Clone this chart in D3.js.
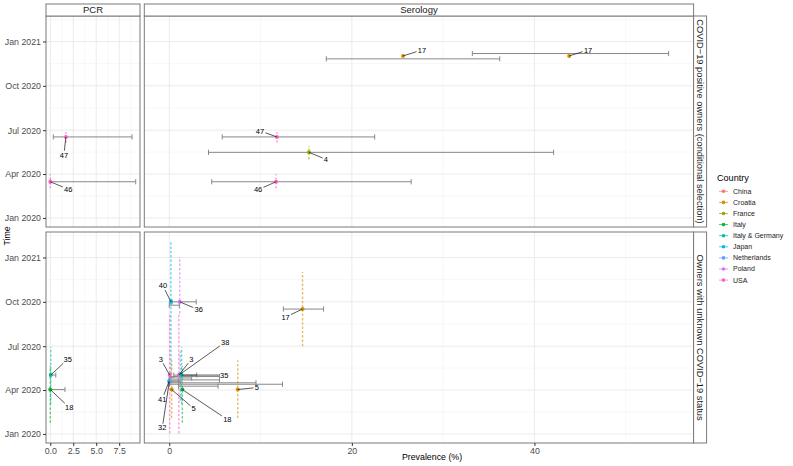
<!DOCTYPE html>
<html>
<head>
<meta charset="utf-8">
<script src="https://cdn.jsdelivr.net/npm/d3@7"></script>
<style>
  body { margin: 0; background: #fff; }
  svg { display: block; font-family: "Liberation Sans", Arial, Helvetica, sans-serif; }
</style>
</head>
<body>
<svg id="chart" width="793" height="466"></svg>
<script>
const countries = ["China", "Croatia", "France", "Italy", "Italy & Germany", "Japan", "Netherlands", "Poland", "USA"];
const countryColors = ["#F8766D", "#D39200", "#93AA00", "#00BA38", "#00C19F", "#00B9E3", "#619CFF", "#DB72FB", "#FF61C3"];

const methods = ["PCR", "Serology"];
const groups = ["COVID−19 positive owners (conditional selection)", "Owners with unknown COVID−19 status"];

// n = number of animals, shown as label; start/end = sampling period (dashed)
const pcrPositive = [
  { country: "USA", n: 47, prev: 1.7, lo: 0.33, hi: 8.9, date: "2020-06-17", start: "2020-06-05", end: "2020-06-27" },
  { country: "USA", n: 46, prev: 0, lo: 0, hi: 9.3, date: "2020-03-16", start: "2020-03-02", end: "2020-04-01" }
];

const seroPositive = [
  { country: "Croatia", n: 17, prev: 25.6, lo: 17.2, hi: 36.2, date: "2020-12-02", ciDate: "2020-11-26" },
  { country: "Croatia", n: 17, prev: 43.8, lo: 33.2, hi: 54.7, date: "2020-12-02", ciDate: "2020-12-07" },
  { country: "USA", n: 47, prev: 11.8, lo: 5.8, hi: 22.5, date: "2020-06-17", start: "2020-06-05", end: "2020-06-27" },
  { country: "France", n: 4, prev: 15.3, lo: 4.3, hi: 42.1, date: "2020-05-16", start: "2020-05-01", end: "2020-05-29" },
  { country: "USA", n: 46, prev: 11.7, lo: 4.65, hi: 26.5, date: "2020-03-16", start: "2020-03-02", end: "2020-04-01" }
];

const pcrUnknown = [
  { country: "Italy & Germany", n: 35, prev: 0.05, lo: 0, hi: 0.6, date: "2020-05-02", start: "2020-03-03", end: "2020-06-29" },
  { country: "Italy", n: 18, prev: 0, lo: 0, hi: 1.6, date: "2020-04-02", start: "2020-01-24", end: "2020-05-21" }
];

const seroUnknown = [
  { country: "Japan", n: 40, prev: 0.18, lo: 0, hi: 1.1, date: "2020-10-01", ciDate: "2020-09-24", start: "2020-04-26", end: "2021-02-03" },
  { country: "Poland", n: 36, prev: 1.14, lo: 0.3, hi: 2.95, date: "2020-10-01", start: "2020-09-07", end: "2021-01-02" },
  { country: "Croatia", n: 17, prev: 14.6, lo: 12.5, hi: 16.9, date: "2020-09-16", start: "2020-07-01", end: "2020-12-02" },
  { country: "Croatia", n: 5, prev: 7.5, lo: 0, hi: 12.4, date: "2020-04-02", ciDate: "2020-04-13", start: "2020-02-03", end: "2020-06-02" },
  { country: "Croatia", n: 5, prev: 0.26, lo: 0, hi: 9.5, date: "2020-04-02", ciDate: "2020-04-16", start: "2020-02-03", end: "2020-06-02" },
  { country: "Italy", n: 18, prev: 1.43, lo: 1.0, hi: 5.35, date: "2020-04-02", ciDate: "2020-04-09", start: "2020-01-24", end: "2020-05-21" },
  { country: "USA", n: 3, prev: 0.05, lo: 0, hi: 2.45, date: "2020-05-02", ciDate: "2020-04-26", start: "2020-01-02", end: "2020-09-07" },
  { country: "USA", n: 3, prev: 1.05, lo: 0.07, hi: 5.5, date: "2020-05-02", ciDate: "2020-04-29", start: "2020-01-02", end: "2020-09-07" },
  { country: "Netherlands", n: 38, prev: 1.2, lo: 0, hi: 5.5, date: "2020-05-04", ciDate: "2020-04-22", start: "2020-03-10", end: "2020-06-20" },
  { country: "Italy & Germany", n: 35, prev: 1.35, lo: 0.5, hi: 3.0, date: "2020-05-02", start: "2020-03-03", end: "2020-06-29" },
  { country: "Japan", n: 41, prev: 0, lo: 0, hi: 1.0, date: "2020-04-20" },
  { country: "Netherlands", n: 32, prev: 0, lo: 0, hi: 1.2, date: "2020-04-18" }
];

// label placement (px from the point), like ggrepel did it
const nudgePcrPositive = [[-2, 18], [18, 7.5]];
const nudgeSeroPositive = [[19, -6], [19, -6], [-17, -6], [17, 7], [-18, 8]];
const nudgePcrUnknown = [[17, -16], [19, 18]];
const nudgeSeroUnknown = [[-8, -16], [19, 8], [-17, 8], [19, -2], [22, 19], [45, 30],
  [-9, -16], [12.6, -16], [45, -32], [42.7, 0], [-7, 18], [-7, 46]];

const facets = [
  { method: "PCR", row: 0, rows: pcrPositive, nudge: nudgePcrPositive },
  { method: "Serology", row: 0, rows: seroPositive, nudge: nudgeSeroPositive },
  { method: "PCR", row: 1, rows: pcrUnknown, nudge: nudgePcrUnknown },
  { method: "Serology", row: 1, rows: seroUnknown, nudge: nudgeSeroUnknown }
];

const parse = d3.utcParse("%Y-%m-%d");
const color = d3.scaleOrdinal(countries, countryColors);

const colX = { PCR: [46, 140], Serology: [144.3, 693.6] };
const rowY = [[16, 227], [232, 443]];

const svg = d3.select("#chart");

// scales: ggplot-like 5% expansion of data range
function expand([a, b]) {
  const e = (b - a) * 0.05;
  return [a - e, b + e];
}
const x = {};
for (const m of methods) {
  const rows = facets.filter(f => f.method === m).flatMap(f => f.rows);
  x[m] = d3.scaleLinear()
    .domain(expand([d3.min(rows, d => d.lo), d3.max(rows, d => d.hi)]))
    .range(colX[m]);
}
const allDates = facets.flatMap(f => f.rows).flatMap(d => [d.date, d.ciDate, d.start, d.end]).filter(Boolean).map(parse);
const dateExt = d3.extent(allDates);
const dayMs = 864e5;
const dSpan = (dateExt[1] - dateExt[0]) * 0.05;
const yDomain = [new Date(+dateExt[0] - dSpan), new Date(+dateExt[1] + dSpan)];
const y = rowY.map(r => d3.scaleUtc().domain(yDomain).range([r[1], r[0]]));

const yMajor = d3.utcMonth.every(3).range(yDomain[0], yDomain[1]);
const yMinor = [];
{
  const ext = [d3.utcMonth.offset(yMajor[0], -3), ...yMajor, d3.utcMonth.offset(yMajor[yMajor.length - 1], 3)];
  for (let i = 0; i < ext.length - 1; i++) yMinor.push(new Date((+ext[i] + +ext[i + 1]) / 2));
}
const fmt = d3.utcFormat("%b %Y");

const xMajor = { PCR: [0, 2.5, 5, 7.5], Serology: [0, 20, 40] };
const xMinor = { PCR: [1.25, 3.75, 6.25, 8.75], Serology: [-5, 10, 30, 50] };
const xFmt = { PCR: d3.format(".1f"), Serology: d3.format("d") };

facets.forEach((f, i) => {
  const xs = x[f.method], ys = y[f.row];
  const [x0, x1] = colX[f.method], [y0, y1] = rowY[f.row];
  const g = svg.append("g");
  const clipId = "clip" + i;
  svg.append("clipPath").attr("id", clipId)
    .append("rect").attr("x", x0).attr("y", y0).attr("width", x1 - x0).attr("height", y1 - y0);

  const grid = g.append("g").attr("clip-path", `url(#${clipId})`);
  grid.selectAll(".ymin").data(yMinor).join("line")
    .attr("x1", x0).attr("x2", x1).attr("y1", d => ys(d)).attr("y2", d => ys(d))
    .attr("stroke", "#F2F2F2").attr("stroke-width", 0.6);
  grid.selectAll(".xmin").data(xMinor[f.method]).join("line")
    .attr("y1", y0).attr("y2", y1).attr("x1", d => xs(d)).attr("x2", d => xs(d))
    .attr("stroke", "#F2F2F2").attr("stroke-width", 0.6);
  grid.selectAll(".ymaj").data(yMajor).join("line")
    .attr("x1", x0).attr("x2", x1).attr("y1", d => ys(d)).attr("y2", d => ys(d))
    .attr("stroke", "#EBEBEB").attr("stroke-width", 1);
  grid.selectAll(".xmaj").data(xMajor[f.method]).join("line")
    .attr("y1", y0).attr("y2", y1).attr("x1", d => xs(d)).attr("x2", d => xs(d))
    .attr("stroke", "#EBEBEB").attr("stroke-width", 1);

  const marks = g.append("g").attr("clip-path", `url(#${clipId})`);

  // sampling period
  marks.selectAll(".period").data(f.rows.filter(d => d.start)).join("line")
    .attr("x1", d => xs(d.prev)).attr("x2", d => xs(d.prev))
    .attr("y1", d => ys(parse(d.start))).attr("y2", d => ys(parse(d.end)))
    .attr("stroke", d => color(d.country)).attr("stroke-width", 1.4)
    .attr("stroke-dasharray", "2.5,1.8").attr("opacity", 0.6);

  // confidence intervals
  const ci = marks.selectAll(".ci").data(f.rows).join("g")
    .attr("stroke", "#888").attr("stroke-width", 1).attr("fill", "none");
  const cy = d => ys(parse(d.ciDate || d.date));
  ci.append("line").attr("x1", d => xs(d.lo)).attr("x2", d => xs(d.hi))
    .attr("y1", cy).attr("y2", cy);
  ci.append("line").attr("x1", d => xs(d.lo)).attr("x2", d => xs(d.lo))
    .attr("y1", d => cy(d) - 2.6).attr("y2", d => cy(d) + 2.6);
  ci.append("line").attr("x1", d => xs(d.hi)).attr("x2", d => xs(d.hi))
    .attr("y1", d => cy(d) - 2.6).attr("y2", d => cy(d) + 2.6);

  // repel-style labels
  const lab = f.rows.map((d, k) => {
    const px = xs(d.prev), py = ys(parse(d.date));
    const lx = px + f.nudge[k][0], ly = py + f.nudge[k][1];
    const hw = String(d.n).length * 2.2 + 1, hh = 4.2;
    const dx = px - lx, dy = py - ly;
    const t = Math.min(dx ? hw / Math.abs(dx) : Infinity, dy ? hh / Math.abs(dy) : Infinity);
    return { d, px, py, lx, ly, ex: lx + dx * t, ey: ly + dy * t };
  });
  g.selectAll(".seg").data(lab).join("line")
    .attr("x1", d => d.px).attr("y1", d => d.py).attr("x2", d => d.ex).attr("y2", d => d.ey)
    .attr("stroke", "#111").attr("stroke-width", 0.7);

  marks.selectAll(".pt").data(f.rows).join("circle")
    .attr("cx", d => xs(d.prev)).attr("cy", d => ys(parse(d.date))).attr("r", 2)
    .attr("fill", d => color(d.country));

  g.selectAll(".lab").data(lab).join("text")
    .attr("x", d => d.lx).attr("y", d => d.ly).attr("dy", "0.35em")
    .attr("text-anchor", "middle").attr("font-size", 7.5).attr("fill", "#000")
    .text(d => d.d.n);

  g.append("rect").attr("x", x0).attr("y", y0).attr("width", x1 - x0).attr("height", y1 - y0)
    .attr("fill", "none").attr("stroke", "#7a7a7a").attr("stroke-width", 1);
});

// top strips
for (const m of methods) {
  const [x0, x1] = colX[m];
  svg.append("rect").attr("x", x0).attr("y", 4).attr("width", x1 - x0).attr("height", 12)
    .attr("fill", "#fff").attr("stroke", "#7a7a7a");
  svg.append("text").attr("x", (x0 + x1) / 2).attr("y", 10).attr("dy", "0.35em")
    .attr("text-anchor", "middle").attr("font-size", 9.5).attr("fill", "#1A1A1A").text(m);
}
// right strips
groups.forEach((gname, r) => {
  const [y0, y1] = rowY[r];
  svg.append("rect").attr("x", 693.6).attr("y", y0).attr("width", 13).attr("height", y1 - y0)
    .attr("fill", "#fff").attr("stroke", "#7a7a7a");
  svg.append("text").attr("transform", `translate(700.1,${(y0 + y1) / 2}) rotate(90)`)
    .attr("dy", "0.35em").attr("text-anchor", "middle").attr("font-size", 9.3)
    .attr("fill", "#1A1A1A").text(gname);
});

// y axes (left column only)
rowY.forEach((r, k) => {
  svg.append("g").attr("transform", "translate(46,0)")
    .call(d3.axisLeft(y[k]).tickValues(yMajor).tickFormat(fmt).tickSize(3).tickPadding(2))
    .call(a => a.select(".domain").remove())
    .call(a => a.selectAll("line").attr("stroke", "#333"))
    .call(a => a.selectAll("text").attr("font-size", 8.8).attr("fill", "#4D4D4D")
      .attr("font-family", "Liberation Sans, Arial, sans-serif"));
});
// x axes (bottom row)
for (const m of methods) {
  svg.append("g").attr("transform", `translate(0,${rowY[1][1]})`)
    .call(d3.axisBottom(x[m]).tickValues(xMajor[m]).tickFormat(xFmt[m]).tickSize(3).tickPadding(2))
    .call(a => a.select(".domain").remove())
    .call(a => a.selectAll("line").attr("stroke", "#333"))
    .call(a => a.selectAll("text").attr("font-size", 8.8).attr("fill", "#4D4D4D")
      .attr("font-family", "Liberation Sans, Arial, sans-serif"));
}

svg.append("text").attr("x", 432).attr("y", 460).attr("text-anchor", "middle")
  .attr("font-size", 8.8).attr("fill", "#000").text("Prevalence (%)");
svg.append("text").attr("transform", "translate(10,236) rotate(-90)")
  .attr("text-anchor", "middle").attr("font-size", 8.8).attr("fill", "#000").text("Time");

// legend
const leg = svg.append("g").attr("transform", "translate(717,0)");
leg.append("text").attr("x", 0).attr("y", 180.5).attr("font-size", 9.1).attr("fill", "#000").text("Country");
const item = leg.selectAll(".item").data(countries).join("g")
  .attr("transform", (d, i) => `translate(0,${191.3 + i * 11.1})`);
item.append("line").attr("x1", 2).attr("x2", 11).attr("stroke", d => color(d)).attr("stroke-width", 1).attr("opacity", 0.7);
item.append("circle").attr("cx", 6.5).attr("r", 1.8).attr("fill", d => color(d));
item.append("text").attr("x", 16).attr("dy", "0.35em").attr("font-size", 7).attr("fill", "#1A1A1A").text(d => d);
</script>
</body>
</html>
